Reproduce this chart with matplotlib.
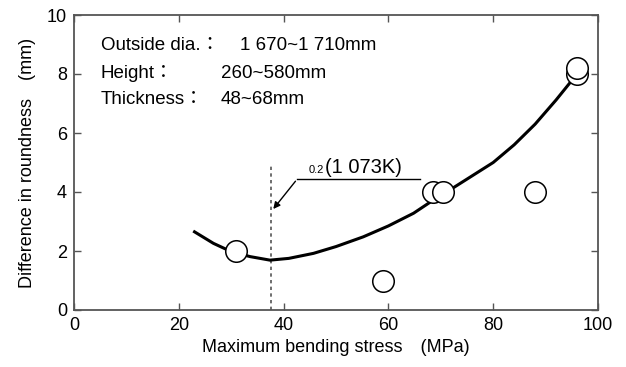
import matplotlib
matplotlib.use("Agg")
import matplotlib.pyplot as plt

# Data
pt_x = [31, 59, 68.5, 70.5, 88, 96, 96]
pt_y = [2.0, 1.0, 4.0, 4.0, 4.0, 8.0, 8.2]

curve_x = [23, 26.6, 30, 33.6, 37.4, 41, 45.7, 50, 55.2, 60, 64.8, 68.6, 72, 76, 80, 84, 88, 92, 96]
curve_y = [2.65, 2.26, 1.98, 1.81, 1.69, 1.75, 1.92, 2.15, 2.48, 2.85, 3.28, 3.73, 4.1, 4.55, 5.0, 5.6, 6.3, 7.12, 8.0]

limit_x = 37.5
limit_top = 4.9

xticks = [0, 20, 40, 60, 80, 100]
yticks = [0, 2, 4, 6, 8, 10]

fam = ['Liberation Sans', 'Noto Sans CJK JP', 'DejaVu Sans']
plt.rcParams['font.family'] = fam

fig = plt.figure(figsize=(6.26, 3.67), dpi=100)
ax = fig.add_axes([74/626, 1-310/367, (598-74)/626, (310-15)/367])

ax.plot(curve_x, curve_y, color='black', lw=2.2, zorder=2, solid_joinstyle='round')
ax.plot(pt_x, pt_y, 'o', ms=15.5, mfc='white', mec='black', mew=1.1, zorder=3)
ax.plot([limit_x, limit_x], [0, limit_top], color='#555555', lw=1.2, ls=(0, (2, 2)), zorder=1)

# annotation
ax.plot([42.5, 66], [4.44, 4.44], color='black', lw=1)
ax.annotate('', xy=(37.7, 3.35), xytext=(42.6, 4.44),
            arrowprops=dict(arrowstyle='-|>', color='black', lw=1, mutation_scale=10))
ax.text(44.8, 4.64, '0.2', fontsize=8, ha='left', va='baseline')
ax.text(47.9, 4.64, '(1 073K)', fontsize=14.5, ha='left', va='baseline')

# info block
rows = [('Outside dia.\uff1a', '1 670~1 710mm', 8.96),
        ('Height\uff1a', '260~580mm', 8.0),
        ('Thickness\uff1a', '48~68mm', 7.12)]
val_x = [31.7, 28.0, 28.0]
for (lab, val, y), vx in zip(rows, val_x):
    ax.text(5.1, y, lab, fontsize=13.5, ha='left', va='center')
    ax.text(vx, y, val, fontsize=13.5, ha='left', va='center')

ax.set_xlim(0, 100)
ax.set_ylim(0, 10)
ax.set_xticks(xticks)
ax.set_yticks(yticks)
ax.tick_params(direction='in', top=True, right=True, length=5, width=1,
               color='#555555', labelsize=13, pad=5)
for s in ax.spines.values():
    s.set_color('#555555')
    s.set_linewidth(1.3)

ax.set_xlabel('Maximum bending stress\u3000(MPa)', fontsize=13, labelpad=4)
ax.set_ylabel('Difference in roundness\u3000(mm)', fontsize=13, labelpad=8)

fig.savefig('out.png', dpi=100)
